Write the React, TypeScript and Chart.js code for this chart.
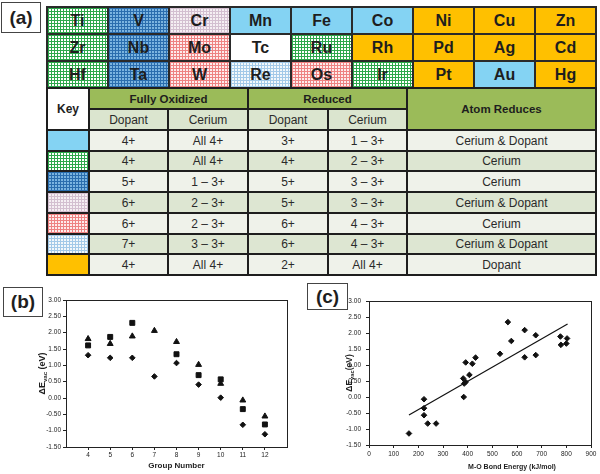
import React, { useEffect, useRef } from 'react';
import { Chart, registerables } from 'chart.js';
Chart.register(...registerables);

// ---------- Panel (a): periodic table excerpt ----------
const elementRows = [
  ['Ti', 'V', 'Cr', 'Mn', 'Fe', 'Co', 'Ni', 'Cu', 'Zn'],
  ['Zr', 'Nb', 'Mo', 'Tc', 'Ru', 'Rh', 'Pd', 'Ag', 'Cd'],
  ['Hf', 'Ta', 'W', 'Re', 'Os', 'Ir', 'Pt', 'Au', 'Hg'],
];
// key index per element (0 = none / white)
const elementKeys = [
  [2, 3, 4, 1, 1, 1, 7, 7, 7],
  [2, 3, 5, 0, 2, 7, 7, 7, 7],
  [2, 3, 5, 6, 5, 2, 7, 1, 7],
];

// ---------- Panel (a): key table ----------
const groupHeaders = ['Fully Oxidized', 'Reduced'];
const subHeaders = ['Dopant', 'Cerium', 'Dopant', 'Cerium'];
const keyIds = [1, 2, 3, 4, 5, 6, 7];
const oxDopant = ['4+', '4+', '5+', '6+', '6+', '7+', '4+'];
const oxCerium = ['All 4+', 'All 4+', '1 – 3+', '2 – 3+', '2 – 3+', '3 – 3+', 'All 4+'];
const redDopant = ['3+', '4+', '5+', '5+', '6+', '6+', '2+'];
const redCerium = ['1 – 3+', '2 – 3+', '3 – 3+', '3 – 3+', '4 – 3+', '4 – 3+', 'All 4+'];
const atomReduces = ['Cerium & Dopant', 'Cerium', 'Cerium', 'Cerium & Dopant', 'Cerium', 'Cerium & Dopant', 'Dopant'];

// ---------- Panel (b) ----------
const groupNumbers = [4, 5, 6, 7, 8, 9, 10, 11, 12];
const triangleVals = [1.81, 1.66, 1.89, 2.06, 1.72, 1.02, 0.44, -0.07, -0.56];
const squareVals = [1.61, 1.87, 2.3, null, 1.34, 0.7, 0.57, -0.34, -0.81];
const diamondVals = [1.31, 1.23, 1.23, 0.66, 1.07, 0.41, 0.01, -0.82, -1.11];

// ---------- Panel (c) ----------
const bondEnergy = [162, 223, 223, 223, 238, 272, 384, 382, 386, 392, 392, 407, 419, 432, 531, 563, 577, 631, 631, 676, 676, 776, 778, 803, 800];
const deltaEVac = [-1.14, -0.07, -0.35, -0.57, -0.83, -0.83, 0.0, 0.58, 0.42, 0.47, 1.08, 0.69, 1.04, 1.23, 1.35, 2.34, 1.75, 2.09, 1.24, 1.93, 1.31, 1.89, 1.63, 1.83, 1.67];
const fitX = [162, 805];
const fitY = [-0.56, 2.28];

const CHART_FONT = "'Liberation Sans Narrow', 'Liberation Sans', Arial, sans-serif";
const HTML_FONT = "'Liberation Sans', Arial, sans-serif";

const grid = (line: string, bg: string, s = 3) =>
  `linear-gradient(90deg, ${line} 1px, transparent 1px) 0 0 / ${s}px ${s}px, linear-gradient(${line} 1px, transparent 1px) 0 0 / ${s}px ${s}px, ${bg}`;

const keyBackgrounds: Record<number, string> = {
  0: '#ffffff',
  1: '#84D3F3',
  2: grid('#2EA84C', '#FFFFFF'),
  3: grid('#2A6DAE', '#7BB4E0'),
  4: grid('#D3BFD0', '#F5EFF3'),
  5: grid('#EE8282', '#FDECEC'),
  6: grid('#A3C9E8', '#F3F8FB'),
  7: '#FFC000',
};

const cellBase: React.CSSProperties = {
  position: 'absolute',
  display: 'flex',
  alignItems: 'center',
  justifyContent: 'center',
  boxSizing: 'border-box',
  color: '#1e1e1e',
  whiteSpace: 'nowrap',
};

function rectCell(key: string, x0: number, y0: number, x1: number, y1: number, bg: string, content: React.ReactNode, font: React.CSSProperties) {
  return (
    <div
      key={key}
      style={{ ...cellBase, left: x0 + 1, top: y0 + 1, width: x1 - x0 - 2, height: y1 - y0 - 2, background: bg, ...font }}
    >
      {content}
    </div>
  );
}

function PanelA() {
  const cells: React.ReactNode[] = [];
  const px0 = 47, py0 = 7, cw = 61, ch = 27;
  elementRows.forEach((row, r) =>
    row.forEach((sym, c) => {
      cells.push(
        rectCell(`e${r}${c}`, px0 + c * cw, py0 + r * ch, px0 + (c + 1) * cw, py0 + (r + 1) * ch,
          keyBackgrounds[elementKeys[r][c]], sym, { fontWeight: 'bold', fontSize: 16 })
      );
    })
  );
  const xb = [47, 89, 168, 248, 328, 407, 596];
  const y0 = 88, y1 = 109, y2 = 130;
  const rowBounds = [130, 151, 171, 192, 213, 234, 254, 275];
  const headFont: React.CSSProperties = { fontWeight: 'bold', fontSize: 11.5 };
  const bodyFont: React.CSSProperties = { fontSize: 12, color: '#2a2a2a' };
  const green = '#9BBB59';
  const sub = '#DBE5CF';
  cells.push(rectCell('key', xb[0], y0, xb[1], y2, '#ffffff', 'Key', { fontWeight: 'bold', fontSize: 12 }));
  cells.push(rectCell('g0', xb[1], y0, xb[3], y1, green, groupHeaders[0], headFont));
  cells.push(rectCell('g1', xb[3], y0, xb[5], y1, green, groupHeaders[1], headFont));
  cells.push(rectCell('ar', xb[5], y0, xb[6], y2, green, 'Atom Reduces', headFont));
  subHeaders.forEach((s, i) => cells.push(rectCell(`s${i}`, xb[i + 1], y1, xb[i + 2], y2, sub, s, bodyFont)));
  keyIds.forEach((k, i) => {
    const ya = rowBounds[i], yb = rowBounds[i + 1];
    const bg = i % 2 === 0 ? '#EFF2EA' : '#DDE6D2';
    const vals = [oxDopant[i], oxCerium[i], redDopant[i], redCerium[i], atomReduces[i]];
    cells.push(rectCell(`k${i}`, xb[0], ya, xb[1], yb, keyBackgrounds[k], '', bodyFont));
    vals.forEach((v, j) => cells.push(rectCell(`v${i}${j}`, xb[j + 1], ya, xb[j + 2], yb, bg, v, bodyFont)));
  });
  return (
    <>
      <div style={{ position: 'absolute', left: 46, top: 6, width: 551, height: 83, background: '#2a2a2a' }} />
      <div style={{ position: 'absolute', left: 46, top: 87, width: 551, height: 189, background: '#1e1e1e' }} />
      {cells}
    </>
  );
}

const framePlugin = {
  id: 'frame',
  beforeDatasetsDraw(chart: any) {
    const { ctx, chartArea: a } = chart;
    ctx.save();
    ctx.strokeStyle = '#222';
    ctx.lineWidth = 1;
    ctx.strokeRect(Math.round(a.left) + 0.5, Math.round(a.top) + 0.5, Math.round(a.right - a.left), Math.round(a.bottom - a.top));
    ctx.restore();
  },
};

function yTitlePlugin(cx: number, size: number, main: string, sub: string, tail: string) {
  return {
    id: 'ytitle',
    afterDraw(chart: any) {
      const { ctx, chartArea: a } = chart;
      ctx.save();
      ctx.translate(cx, (a.top + a.bottom) / 2);
      ctx.rotate(-Math.PI / 2);
      const big = `bold ${size}px ${CHART_FONT}`;
      const small = `bold ${size * 0.68}px ${CHART_FONT}`;
      ctx.font = big;
      const w1 = ctx.measureText(main).width;
      const w3 = ctx.measureText(tail).width;
      ctx.font = small;
      const w2 = ctx.measureText(sub).width;
      let x = -(w1 + w2 + w3) / 2;
      ctx.textBaseline = 'middle';
      ctx.fillStyle = '#1e1e1e';
      ctx.font = big;
      ctx.fillText(main, x, 0);
      x += w1;
      ctx.font = small;
      ctx.fillText(sub, x, size * 0.3);
      x += w2;
      ctx.font = big;
      ctx.fillText(tail, x, 0);
      ctx.restore();
    },
  };
}

function xTitlePlugin(cx: number, cy: number, size: number, text: string) {
  return {
    id: 'xtitle',
    afterDraw(chart: any) {
      const { ctx } = chart;
      ctx.save();
      ctx.font = `bold ${size}px ${CHART_FONT}`;
      ctx.textAlign = 'center';
      ctx.textBaseline = 'middle';
      ctx.fillStyle = '#1e1e1e';
      ctx.fillText(text, cx, cy);
      ctx.restore();
    },
  };
}

const tickFont = { size: 6.5, family: CHART_FONT };
const axisColor = '#222';

function ChartB() {
  const ref = useRef<HTMLCanvasElement>(null);
  useEffect(() => {
    const mk = (vals: (number | null)[]) =>
      groupNumbers.map((g, i) => (vals[i] === null ? null : { x: g, y: vals[i] as number })).filter(Boolean) as { x: number; y: number }[];
    const chart = new Chart(ref.current!, {
      type: 'scatter',
      data: {
        datasets: [
          { data: mk(triangleVals), pointStyle: 'triangle', pointRadius: 3.4, backgroundColor: '#111', borderColor: '#111', borderWidth: 1 },
          { data: mk(squareVals), pointStyle: 'rect', pointRadius: 3.5, backgroundColor: '#111', borderColor: '#111', borderWidth: 1 },
          { data: mk(diamondVals), pointStyle: 'rectRot', pointRadius: 2.8, backgroundColor: '#111', borderColor: '#111', borderWidth: 1 },
        ],
      },
      options: {
        animation: false,
        responsive: false,
        maintainAspectRatio: false,
        events: [],
        layout: { padding: { top: 10, right: 13, left: 0, bottom: 0 } },
        plugins: { legend: { display: false }, tooltip: { enabled: false } },
        scales: {
          x: {
            type: 'linear',
            min: 3,
            max: 13,
            afterBuildTicks: (axis: any) => {
              axis.ticks = groupNumbers.map((v) => ({ value: v }));
            },
            afterFit: (s: any) => {
              s.height = 27;
            },
            ticks: { font: tickFont, color: axisColor, padding: 1, maxRotation: 0, autoSkip: false },
            grid: { display: true, drawOnChartArea: false, drawTicks: true, tickLength: 3, color: axisColor },
            border: { display: true, color: axisColor },
            title: { display: true, text: 'Group Number', color: '#1e1e1e', font: { size: 8, weight: 'bold', family: CHART_FONT }, padding: { top: 0, bottom: 3 } },
          },
          y: {
            type: 'linear',
            min: -1.5,
            max: 3,
            afterFit: (s: any) => {
              s.width = 66;
            },
            ticks: { stepSize: 0.5, font: tickFont, color: axisColor, padding: 2, callback: (v: any) => Number(v).toFixed(2) },
            grid: { display: true, drawOnChartArea: false, drawTicks: true, tickLength: 3, color: axisColor },
            border: { display: true, color: axisColor },
          },
        },
      },
      plugins: [framePlugin, yTitlePlugin(43, 9, 'ΔE', 'vac', ' (eV)')],
    });
    return () => chart.destroy();
  }, []);
  return <canvas ref={ref} width={300} height={184} style={{ position: 'absolute', left: 0, top: 290, width: 300, height: 184 }} />;
}

function ChartC() {
  const ref = useRef<HTMLCanvasElement>(null);
  useEffect(() => {
    const chart = new Chart(ref.current!, {
      type: 'scatter',
      data: {
        datasets: [
          {
            data: bondEnergy.map((x, i) => ({ x, y: deltaEVac[i] })),
            pointStyle: 'rectRot',
            pointRadius: 2.8,
            backgroundColor: '#111',
            borderColor: '#111',
            borderWidth: 1,
          },
          {
            data: fitX.map((x, i) => ({ x, y: fitY[i] })),
            showLine: true,
            pointRadius: 0,
            borderColor: '#111',
            borderWidth: 1.2,
            backgroundColor: '#111',
          },
        ],
      },
      options: {
        animation: false,
        responsive: false,
        maintainAspectRatio: false,
        events: [],
        layout: { padding: { top: 11, right: 9, left: 0, bottom: 0 } },
        plugins: { legend: { display: false }, tooltip: { enabled: false } },
        scales: {
          x: {
            type: 'linear',
            min: 0,
            max: 900,
            afterFit: (s: any) => {
              s.height = 29;
            },
            ticks: { stepSize: 100, font: tickFont, color: axisColor, padding: 2, maxRotation: 0, autoSkip: false },
            grid: { display: true, drawOnChartArea: false, drawTicks: true, tickLength: 3, color: axisColor },
            border: { display: true, color: axisColor },
            title: { display: false, text: 'M-O Bond Energy (kJ/mol)' },
          },
          y: {
            type: 'linear',
            min: -1.5,
            max: 3,
            afterFit: (s: any) => {
              s.width = 69;
            },
            ticks: { stepSize: 0.5, font: tickFont, color: axisColor, padding: 5, callback: (v: any) => Number(v).toFixed(2) },
            grid: { display: true, drawOnChartArea: false, drawTicks: true, tickLength: 3, color: axisColor },
            border: { display: true, color: axisColor },
          },
        },
      },
      plugins: [framePlugin, yTitlePlugin(50, 8.5, 'ΔE', 'vac', '(eV)'), xTitlePlugin(212, 177, 7, 'M-O Bond Energy (kJ/mol)')],
    });
    return () => chart.destroy();
  }, []);
  return <canvas ref={ref} width={300} height={184} style={{ position: 'absolute', left: 300, top: 290, width: 300, height: 184 }} />;
}

function PanelLabel({ text, left, top, width, height }: { text: string; left: number; top: number; width: number; height: number }) {
  return (
    <div
      style={{
        position: 'absolute',
        left,
        top,
        width,
        height,
        boxSizing: 'border-box',
        border: '1.5px solid #444',
        background: '#fff',
        display: 'flex',
        alignItems: 'center',
        justifyContent: 'center',
        fontFamily: HTML_FONT,
        fontWeight: 'bold',
        fontSize: 19,
        color: '#1e1e1e',
        zIndex: 2,
      }}
    >
      {text}
    </div>
  );
}

export default function App() {
  return (
    <div
      style={{
        position: 'absolute',
        left: 0,
        top: 0,
        width: 600,
        height: 474,
        overflow: 'hidden',
        background: '#fff',
        fontFamily: HTML_FONT,
      }}
    >
      <PanelA />
      <ChartB />
      <ChartC />
      <PanelLabel text="(a)" left={1} top={2} width={40} height={31} />
      <PanelLabel text="(b)" left={3} top={287} width={40} height={30} />
      <PanelLabel text="(c)" left={307} top={283} width={41} height={27} />
    </div>
  );
}
